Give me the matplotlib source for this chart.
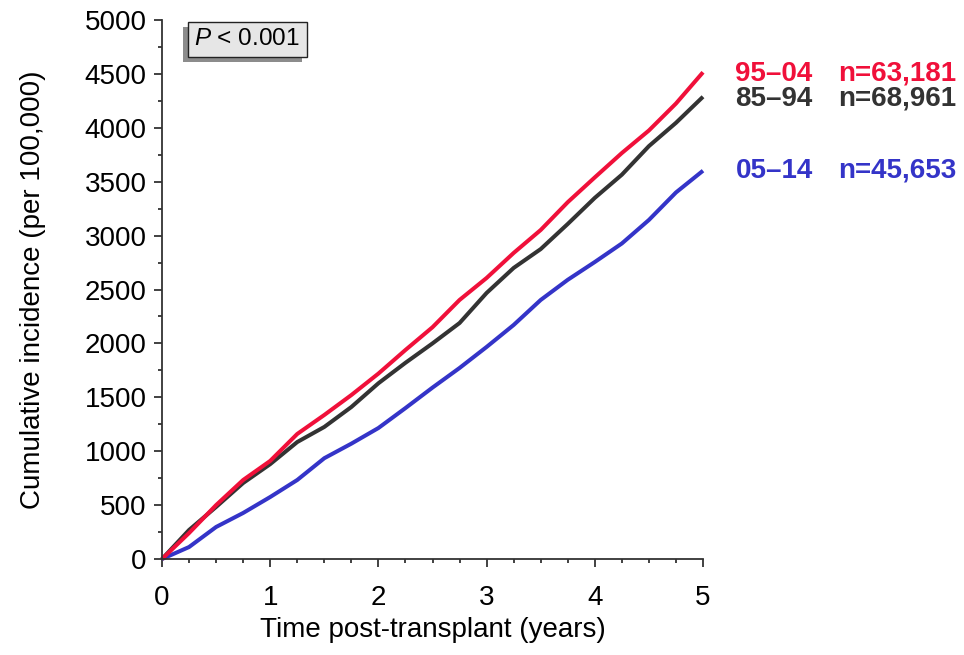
import matplotlib
matplotlib.use("Agg")
import matplotlib.pyplot as plt
from matplotlib.ticker import MultipleLocator
from matplotlib import patheffects

plt.rcParams["font.family"] = ["Liberation Sans", "DejaVu Sans"]
plt.rcParams["mathtext.fontset"] = "custom"
plt.rcParams["mathtext.it"] = "Liberation Sans:italic"
plt.rcParams["mathtext.rm"] = "Liberation Sans"

# years post-transplant, read at quarter-year steps
years = [0, 0.25, 0.5, 0.75, 1.0, 1.25, 1.5, 1.75, 2.0, 2.25, 2.5,
         2.75, 3.0, 3.25, 3.5, 3.75, 4.0, 4.25, 4.5, 4.75, 5.0]
# cumulative incidence per 100,000
era_95_04 = [0, 241, 500, 733, 910, 1160, 1336, 1521, 1720, 1939, 2150,
             2403, 2607, 2839, 3052, 3310, 3540, 3766, 3975, 4225, 4515]
era_85_94 = [0, 269, 483, 705, 880, 1085, 1225, 1410, 1630, 1820, 2000,
             2189, 2468, 2700, 2875, 3108, 3350, 3565, 3830, 4046, 4288]
era_05_14 = [0, 111, 297, 427, 575, 733, 935, 1070, 1215, 1400, 1590,
             1772, 1967, 2171, 2403, 2590, 2755, 2927, 3145, 3400, 3602]

labels = ["95\u201304", "85\u201394", "05\u201314"]
counts = ["n=63,181", "n=68,961", "n=45,653"]
label_y = [4500, 4270, 3600]
RED, DARK, BLUE = "#f0103a", "#333333", "#3434c8"
FS = 20

fig = plt.figure(figsize=(9.64, 6.55), dpi=100)
ax = fig.add_axes([162 / 964, 1 - 559 / 655, (703 - 162) / 964, (559 - 20) / 655])

for ys, col in [(era_05_14, BLUE), (era_85_94, DARK), (era_95_04, RED)]:
    ax.plot(years, ys, color=col, lw=2.9, solid_capstyle="butt", clip_on=False)

ax.set_xlim(0, 5)
ax.set_ylim(0, 5000)
ax.xaxis.set_major_locator(MultipleLocator(1))
ax.xaxis.set_minor_locator(MultipleLocator(0.25))
ax.yaxis.set_major_locator(MultipleLocator(500))
ax.yaxis.set_minor_locator(MultipleLocator(250))
for s in ("top", "right"):
    ax.spines[s].set_visible(False)
for s in ("left", "bottom"):
    ax.spines[s].set_color("#333333")
    ax.spines[s].set_linewidth(1.3)
ax.tick_params(which="major", length=6, width=1.3, color="#333333", labelsize=FS)
ax.tick_params(which="minor", length=3, width=1.3, color="#333333")
ax.tick_params(axis="x", which="major", pad=13)
ax.tick_params(axis="y", which="major", pad=5)

ax.set_xlabel("Time post-transplant (years)", fontsize=FS, labelpad=4)
ax.set_ylabel("Cumulative incidence (per 100,000)", fontsize=FS, labelpad=28)

# P value box with drop shadow
pbox = ax.text(0.06, 0.964, r"$\it{P}$ < 0.001", transform=ax.transAxes,
               fontsize=17.5, color="black", va="center", ha="left",
               bbox=dict(boxstyle="square,pad=0.28", fc="#e6e6e6", ec="#222222", lw=1.0))
pbox.get_bbox_patch().set_path_effects([
    patheffects.SimplePatchShadow(offset=(-3, -3.6), shadow_rgbFace="#8c8c8c", alpha=1.0),
    patheffects.Normal()])

# right-hand series labels
for lab, n, col, ypos in zip(labels, counts, [RED, DARK, BLUE], label_y):
    ax.text(5.3, ypos, lab, color=col, fontsize=FS, fontweight="bold",
            va="center", ha="left", clip_on=False)
    ax.text(6.25, ypos, n, color=col, fontsize=FS, fontweight="bold",
            va="center", ha="left", clip_on=False)

fig.savefig("out.png", dpi=100)
